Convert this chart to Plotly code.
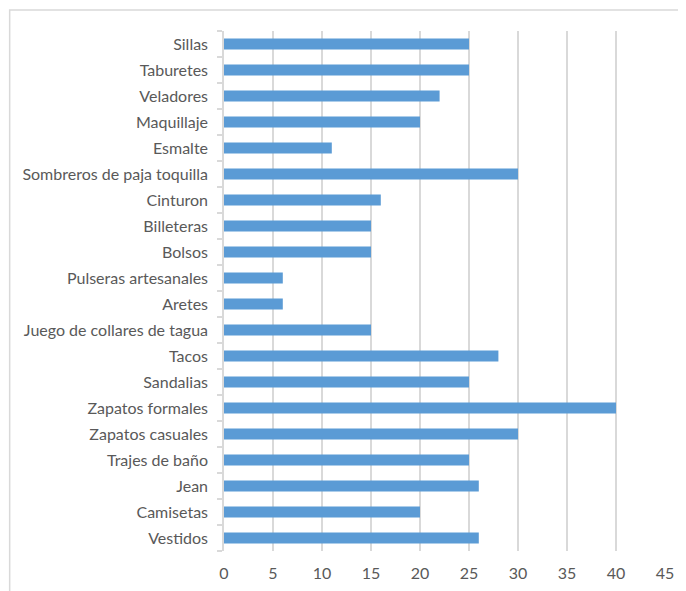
import plotly.graph_objects as go

# categories listed bottom to top
categorias = ['Vestidos', 'Camisetas', 'Jean', 'Trajes de baño', 'Zapatos casuales',
              'Zapatos formales', 'Sandalias', 'Tacos', 'Juego de collares de tagua',
              'Aretes', 'Pulseras artesanales', 'Bolsos', 'Billeteras', 'Cinturon',
              'Sombreros de paja toquilla', 'Esmalte', 'Maquillaje', 'Veladores',
              'Taburetes', 'Sillas']
valores = [26, 20, 26, 25, 30, 40, 25, 28, 15, 6, 6, 15, 15, 16, 30, 11, 20, 22, 25, 25]
x_ticks = [0, 5, 10, 15, 20, 25, 30, 35, 40, 45]

grid = '#D9D9D9'
txt = '#595959'

fig = go.Figure(go.Bar(
    x=valores,
    y=categorias,
    orientation='h',
    marker=dict(color='#5B9BD5', line=dict(width=0)),
    width=0.43,
))

# page body has an 8px margin, so the figure is offset by 8px
fig.update_layout(
    width=678,
    height=583,
    margin=dict(l=216, r=21, t=23, b=40),
    paper_bgcolor='white',
    plot_bgcolor='white',
    showlegend=False,
    font=dict(family='Lato, Carlito, sans-serif', size=16, color=txt),
    xaxis=dict(range=[0, 45], tickvals=x_ticks, showgrid=True, gridcolor=grid,
               gridwidth=1.5, zeroline=False, showline=False, ticks='',
               ticklabelstandoff=11, automargin=False, fixedrange=True),
    yaxis=dict(categoryorder='array', categoryarray=categorias, showgrid=False,
               showline=True, linecolor=grid, linewidth=1.5, ticks='outside',
               tickson='boundaries', ticklen=5, tickcolor=grid, tickwidth=1.5,
               ticklabelstandoff=11, automargin=False, fixedrange=True),
    # outer chart border
    shapes=[dict(type='rect', xref='paper', yref='paper',
                 x0=-0.486, x1=1.2, y0=-0.2, y1=1.0404,
                 line=dict(color=grid, width=1.5), fillcolor='rgba(0,0,0,0)',
                 layer='below')],
)

fig.write_html("out.html")
